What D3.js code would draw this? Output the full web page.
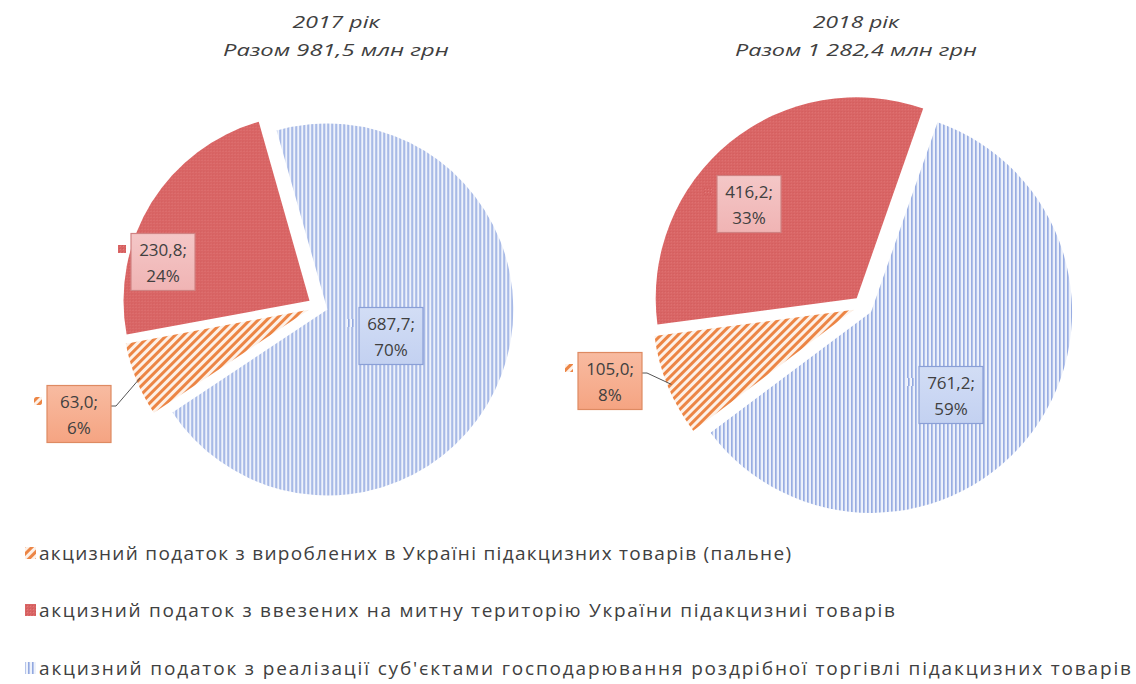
<!DOCTYPE html>
<html>
<head>
<meta charset="utf-8">
<script src="https://cdn.jsdelivr.net/npm/d3@7"></script>
<style>
  html, body { margin: 0; padding: 0; background: #ffffff; }
  svg { display: block; }
</style>
</head>
<body>
<svg id="chart" width="1136" height="684"></svg>
<script>
// ---------------- DATA ----------------
const categories = [
  "акцизний податок з вироблених в Україні підакцизних товарів (пальне)",
  "акцизний податок з ввезених на митну територію України підакцизниі товарів",
  "акцизний податок з реалізації суб'єктами господарювання роздрібної торгівлі підакцизних товарів"
];
const years = ["2017 рік", "2018 рік"];
const totals = ["Разом 981,5 млн грн", "Разом 1 282,4 млн грн"];
const values2017 = [63.0, 230.8, 687.7];
const values2018 = [105.0, 416.2, 761.2];
const valueLabels2017 = ["63,0;", "230,8;", "687,7;"];
const valueLabels2018 = ["105,0;", "416,2;", "761,2;"];
const pctLabels2017 = ["6%", "24%", "70%"];
const pctLabels2018 = ["8%", "33%", "59%"];

// ---------------- LAYOUT ----------------
const svg = d3.select("#chart");
const defs = svg.append("defs");

// patterns
const pOr = defs.append("pattern").attr("id", "pOrange").attr("patternUnits", "userSpaceOnUse")
  .attr("width", 6).attr("height", 6).attr("patternTransform", "rotate(45)");
pOr.append("rect").attr("width", 6).attr("height", 6).attr("fill", "#fdf1e8");
pOr.append("rect").attr("width", 3).attr("height", 6).attr("fill", "#ec8545");

const pRed = defs.append("pattern").attr("id", "pRed").attr("patternUnits", "userSpaceOnUse")
  .attr("width", 3).attr("height", 3);
pRed.append("rect").attr("width", 3).attr("height", 3).attr("fill", "#d96565");
pRed.append("rect").attr("width", 1).attr("height", 1).attr("fill", "#e27a7a");
pRed.append("rect").attr("x", 2).attr("y", 2).attr("width", 1).attr("height", 1).attr("fill", "#d05a5a");

const pBlue = defs.append("pattern").attr("id", "pBlue").attr("patternUnits", "userSpaceOnUse")
  .attr("width", 4).attr("height", 4);
pBlue.append("rect").attr("width", 4).attr("height", 4).attr("fill", "#eef2fb");
pBlue.append("rect").attr("width", 1.6).attr("height", 4).attr("fill", "#92a8e0");

const fills = ["url(#pOrange)", "url(#pRed)", "url(#pBlue)"];
const boxFill = ["#f5a482", "#f0b4b4", "#c3d1f1"];
const boxStroke = ["#de8a62", "#d08282", "#8a9fd6"];

// gradients for label boxes
boxFill.forEach((c, i) => {
  const g = defs.append("linearGradient").attr("id", "bg" + i).attr("x1", 0).attr("y1", 0).attr("x2", 0).attr("y2", 1);
  g.append("stop").attr("offset", "0%").attr("stop-color", d3.interpolateRgb(c, "#ffffff")(0.25));
  g.append("stop").attr("offset", "100%").attr("stop-color", c);
});

const textColor = "#404040";

const pies = [
  { cx: 318, cy: 306, r: 186, explode: 10, startDeg: 236.4,
    values: values2017, vlab: valueLabels2017, plab: pctLabels2017,
    titleX: 336, title: years[0], total: totals[0], titleW: 87, totalW: 226,
    // label box centres (layout)
    boxes: [[79, 414], [163, 262], [391, 336]] },
  { cx: 863, cy: 306, r: 201, explode: 10, startDeg: 233,
    values: values2018, vlab: valueLabels2018, plab: pctLabels2018,
    titleX: 856, title: years[1], total: totals[1], titleW: 86, totalW: 242,
    boxes: [[610, 381], [749, 204], [951, 395]] }
];

const boxW = 64, boxH = 57;

pies.forEach((P, pi) => {
  const g = svg.append("g");
  // titles
  g.append("text").attr("x", P.titleX).attr("y", 28).attr("text-anchor", "middle")
    .attr("font-family", "'Open Sans', 'DejaVu Sans', sans-serif").attr("font-style", "italic")
    .attr("font-size", 17).attr("fill", textColor)
    .attr("textLength", P.titleW).attr("lengthAdjust", "spacingAndGlyphs")
    .text(P.title);
  g.append("text").attr("x", P.titleX).attr("y", 56).attr("text-anchor", "middle")
    .attr("font-family", "'Open Sans', 'DejaVu Sans', sans-serif").attr("font-style", "italic")
    .attr("font-size", 17).attr("fill", textColor)
    .attr("textLength", P.totalW).attr("lengthAdjust", "spacingAndGlyphs")
    .text(P.total);

  const start = P.startDeg * Math.PI / 180;
  const pie = d3.pie().sort(null).value(d => d).startAngle(start).endAngle(start + 2 * Math.PI);
  const arcs = pie(P.values);
  const arc = d3.arc().innerRadius(0).outerRadius(P.r);

  const pg = g.append("g").attr("transform", `translate(${P.cx},${P.cy})`);
  pg.selectAll("path").data(arcs).join("path")
    .attr("transform", d => {
      const m = (d.startAngle + d.endAngle) / 2;
      return `translate(${Math.sin(m) * P.explode},${-Math.cos(m) * P.explode})`;
    })
    .attr("d", arc)
    .attr("fill", (d, i) => fills[i]);

  // leader line for the small (first) slice
  const d0 = arcs[0];
  const m0 = (d0.startAngle + d0.endAngle) / 2;
  const rr = P.r + P.explode - 4;
  const ex = P.cx + Math.sin(m0) * rr, ey = P.cy - Math.cos(m0) * rr;
  const bx = P.boxes[0][0] + boxW / 2, by = P.boxes[0][1] - 8;
  g.append("polyline")
    .attr("points", `${bx},${by} ${bx + 5},${by} ${ex},${ey}`)
    .attr("fill", "none").attr("stroke", "#555").attr("stroke-width", 1);

  // labels
  arcs.forEach((d, i) => {
    const [lx, ly] = P.boxes[i];
    const lg = g.append("g");
    lg.append("rect").attr("x", lx - boxW / 2).attr("y", ly - boxH / 2)
      .attr("width", boxW).attr("height", boxH)
      .attr("fill", `url(#bg${i})`).attr("stroke", boxStroke[i]).attr("stroke-width", 1.2);
    lg.append("rect").attr("x", lx - boxW / 2 - 13).attr("y", ly - 17)
      .attr("width", 8).attr("height", 8).attr("fill", fills[i]);
    lg.append("text").attr("x", lx).attr("y", ly - 6).attr("text-anchor", "middle")
      .attr("font-family", "'Open Sans', 'DejaVu Sans', sans-serif").attr("font-size", 17)
      .attr("fill", textColor).text(P.vlab[i]);
    lg.append("text").attr("x", lx).attr("y", ly + 20).attr("text-anchor", "middle")
      .attr("font-family", "'Open Sans', 'DejaVu Sans', sans-serif").attr("font-size", 17)
      .attr("fill", textColor).text(P.plab[i]);
  });
});

// legend
const legendY = [553, 610, 668];
const legendW = [752, 856, 1092];
const lg = svg.append("g");
categories.forEach((c, i) => {
  lg.append("rect").attr("x", 25).attr("y", legendY[i] - 6).attr("width", 11).attr("height", 12)
    .attr("fill", fills[i]);
  lg.append("text").attr("x", 39).attr("y", legendY[i] + 7)
    .attr("font-family", "'Open Sans', 'DejaVu Sans', sans-serif").attr("font-size", 19)
    .attr("fill", textColor)
    .attr("textLength", legendW[i]).attr("lengthAdjust", "spacing")
    .text(c);
});
</script>
</body>
</html>
